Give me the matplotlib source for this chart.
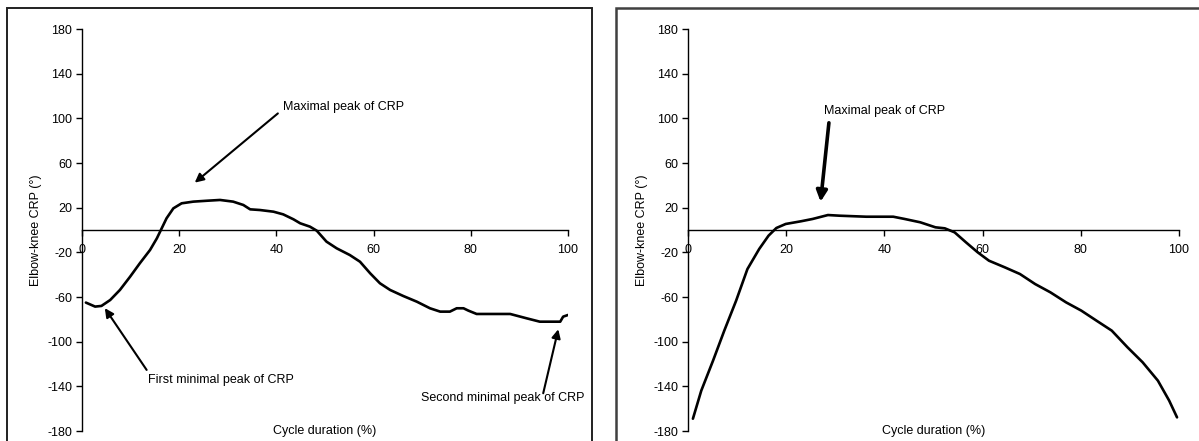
import matplotlib
matplotlib.use("Agg")
import matplotlib.pyplot as plt
from matplotlib.patches import Rectangle

plt.rcParams['font.family'] = ['Liberation Sans', 'DejaVu Sans']
plt.rcParams['axes.unicode_minus'] = False

# ---- data ----
left_x = [0.8, 2.7, 4.0, 5.8, 7.8, 9.9, 11.9, 14.0, 15.4, 16.4, 17.4, 18.8, 20.5, 22.9,
          25.7, 28.4, 31.1, 33.2, 34.6, 36.6, 39.4, 41.4, 43.5, 44.9, 46.9, 48.3, 50.3,
          52.4, 55.1, 57.2, 59.3, 61.3, 63.4, 66.1, 68.9, 71.6, 73.7, 75.7, 77.1, 78.5,
          79.5, 81.2, 84.0, 88.1, 91.5, 94.2, 97.0, 98.4, 99.0, 100.0]
left_y = [-65.0, -68.6, -68.0, -62.7, -53.7, -41.8, -29.8, -17.9, -7.5, 1.5, 10.5, 19.4,
          23.9, 25.4, 26.2, 26.9, 25.4, 22.4, 18.5, 17.9, 16.4, 14.0, 9.6, 6.0, 3.0, -0.6,
          -10.4, -16.4, -22.4, -28.4, -38.8, -47.7, -53.7, -59.1, -64.2, -70.1, -73.1,
          -73.1, -70.1, -70.1, -72.2, -75.2, -75.2, -75.2, -79.1, -82.1, -82.1, -82.1,
          -77.6, -76.1]

right_x = [1.0, 2.7, 5.1, 7.4, 9.8, 12.1, 14.5, 16.4, 18.0, 19.9, 23.0, 25.4, 28.5, 30.9,
           36.3, 41.8, 44.1, 47.3, 50.4, 52.3, 54.3, 56.6, 59.0, 61.3, 64.5, 67.6, 70.7,
           73.8, 77.0, 80.1, 83.2, 86.3, 89.5, 92.6, 95.7, 98.0, 99.6]
right_y = [-169.0, -143.9, -117.0, -90.0, -63.3, -35.0, -17.0, -5.1, 1.8, 5.4, 7.8, 9.9,
           13.4, 12.8, 11.9, 11.9, 9.9, 6.9, 2.4, 1.5, -2.1, -11.0, -20.0, -27.5, -33.4,
           -39.4, -48.4, -55.8, -64.8, -72.2, -81.2, -90.1, -105.0, -118.5, -134.9,
           -152.8, -167.8]

y_ticks = [-180, -140, -100, -60, -20, 20, 60, 100, 140, 180]
x_ticks = [0, 20, 40, 60, 80, 100]
y_label = "Elbow-knee CRP (°)"
x_label = "Cycle duration (%)"

fig = plt.figure(figsize=(11.99, 4.41), dpi=100)
W, H = 1199.0, 441.0

# panel frames
fig.patches.append(Rectangle((7 / W, -0.1), (592 - 7) / W, 1 - 8 / H + 0.1,
                             transform=fig.transFigure, fill=False,
                             edgecolor='#202020', lw=1.4, zorder=0))
fig.patches.append(Rectangle((616 / W, -0.1), 0.6, 1 - 8 / H + 0.1,
                             transform=fig.transFigure, fill=False,
                             edgecolor='#404040', lw=1.8, zorder=0))

y0 = 1 - 431 / H
y1 = 1 - 29 / H
ax1 = fig.add_axes([82 / W, y0, (568 - 82) / W, y1 - y0])
ax2 = fig.add_axes([688 / W, y0, (1179 - 688) / W, y1 - y0])


def style(ax):
    ax.set_xlim(0, 100)
    ax.set_ylim(-180, 180)
    ax.patch.set_alpha(0)
    for s in ['top', 'right']:
        ax.spines[s].set_visible(False)
    ax.spines['bottom'].set_position(('data', 0))
    ax.spines['bottom'].set_linewidth(1.0)
    ax.spines['left'].set_linewidth(1.0)
    ax.set_yticks(y_ticks)
    ax.set_xticks(x_ticks)
    ax.tick_params(axis='y', direction='out', length=4, width=1, pad=3, labelsize=9)
    ax.tick_params(axis='x', direction='out', length=4, width=1, pad=6, labelsize=9)
    ax.set_ylabel(y_label, fontsize=9, labelpad=4)
    ax.text(0.5, 0.0, x_label, transform=ax.transAxes, ha='center', va='center',
            fontsize=9)


style(ax1)
style(ax2)

ax1.plot(left_x, left_y, color='black', lw=1.9, solid_capstyle='round')
ax2.plot(right_x, right_y, color='black', lw=1.9, solid_capstyle='round')

arrow = dict(arrowstyle='-|>', lw=1.5, color='black', mutation_scale=13,
             shrinkA=0, shrinkB=0)
ax1.annotate('', xy=(23.2, 42.4), xytext=(40.3, 104.4), arrowprops=arrow)
ax1.text(41.4, 109.8, 'Maximal peak of CRP', fontsize=9, ha='left', va='center')
ax1.annotate('', xy=(4.7, -70.0), xytext=(13.3, -125.3), arrowprops=arrow)
ax1.text(13.6, -134.3, 'First minimal peak of CRP', fontsize=9, ha='left', va='center')
ax1.annotate('', xy=(98.0, -88.9), xytext=(94.9, -146.2), arrowprops=arrow)
ax1.text(69.7, -150.7, 'Second minimal peak of CRP', fontsize=9, ha='left', va='center')

arrow2 = dict(arrowstyle='-|>', lw=2.6, color='black', mutation_scale=16,
              shrinkA=0, shrinkB=0)
ax2.annotate('', xy=(27.0, 25.3), xytext=(28.7, 96.0), arrowprops=arrow2)
ax2.text(27.7, 106.8, 'Maximal peak of CRP', fontsize=9, ha='left', va='center')

fig.savefig('out.png', dpi=100)
